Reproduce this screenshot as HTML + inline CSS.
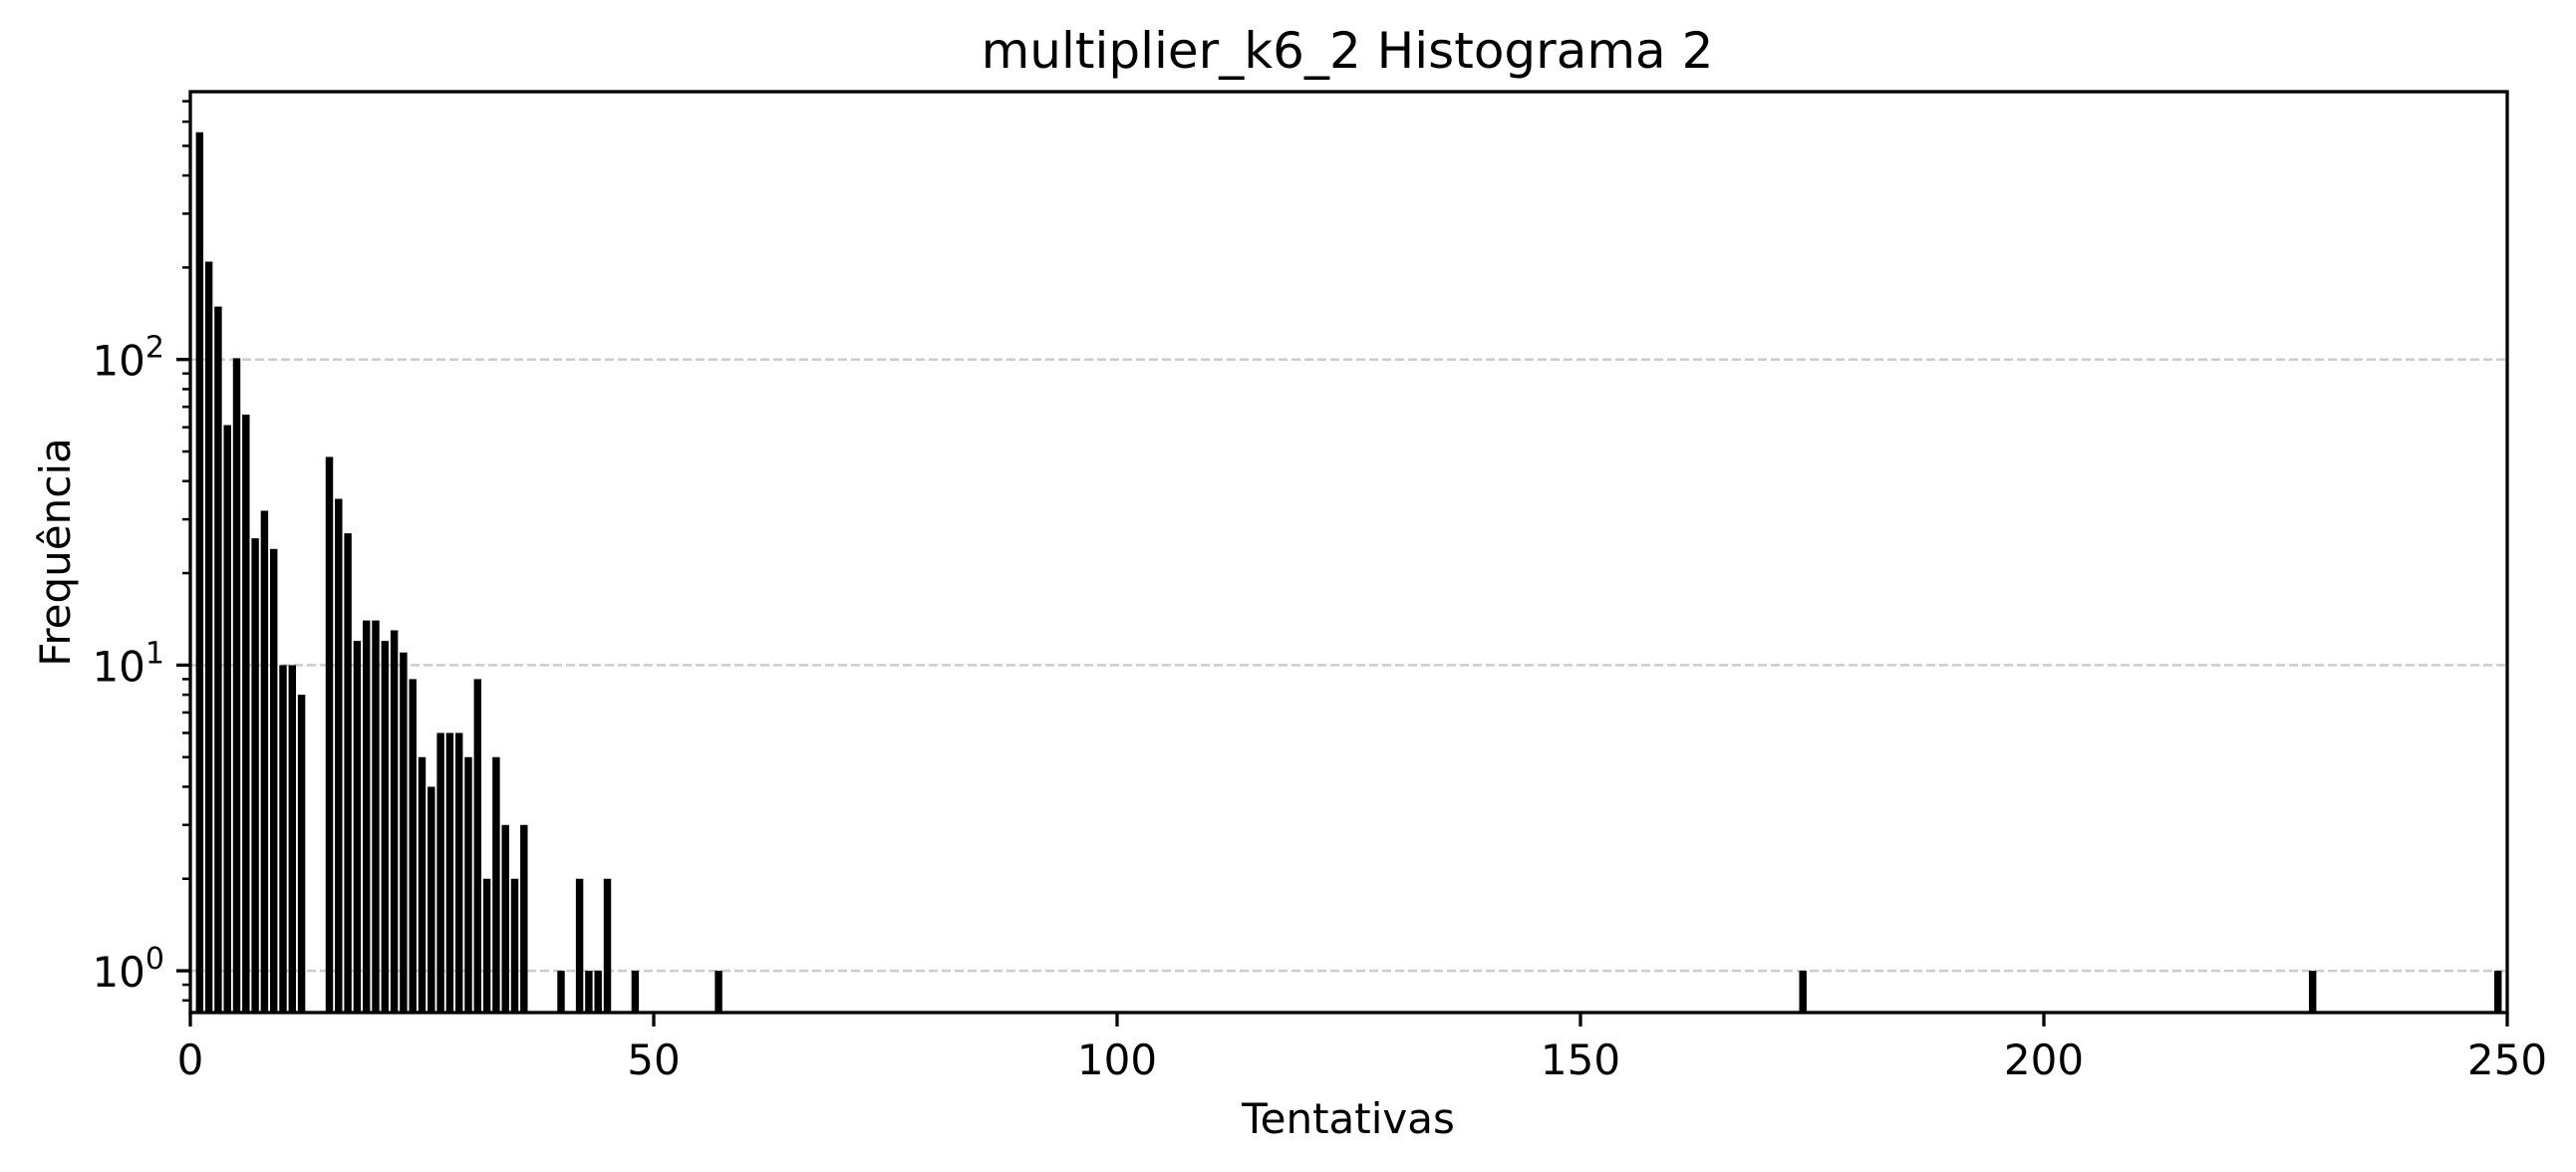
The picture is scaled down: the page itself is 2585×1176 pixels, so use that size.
<!DOCTYPE html>
<html><head><meta charset="utf-8"><style>
html,body{margin:0;padding:0;background:#fff;}
svg{display:block;font-family:"DejaVu Sans","Liberation Sans",sans-serif;}
</style></head><body>
<svg id="chart" width="2585" height="1176" viewBox="0 0 2585 1176" xmlns="http://www.w3.org/2000/svg">
<rect width="2585" height="1176" fill="#fff"/>
<g id="grid"></g><g id="bars"></g><g id="axes"></g>
</svg>
<script>
const categories = [1,2,3,4,5,6,7,8,9,10,11,12,15,16,17,18,19,20,21,22,23,24,25,26,27,28,29,30,31,32,33,34,35,36,40,42,43,44,45,48,57,174,229,249];
const counts = [554,209,149,61,101,66,26,32,24,10,10,8,48,35,27,12,14,14,12,13,11,9,5,4,6,6,6,5,9,2,5,3,2,3,1,2,1,1,2,1,1,1,1,1];
const xTicks = [0,50,100,150,200,250];
const yTickExps = [0,1,2];
const NS='http://www.w3.org/2000/svg';
const L=191,R=2516,T=92,B=1016;
const xMin=0,xMax=250;
const yMinLog=Math.log10(0.73), yMaxLog=Math.log10(752);
const x = v => L + (v-xMin)/(xMax-xMin)*(R-L);
const y = v => B - (Math.log10(v)-yMinLog)/(yMaxLog-yMinLog)*(B-T);
function mk(tag, attrs, parent){const e=document.createElementNS(NS,tag);for(const k in attrs)e.setAttribute(k,attrs[k]);parent.appendChild(e);return e;}
const grid=document.getElementById('grid'),bars=document.getElementById('bars'),axes=document.getElementById('axes');
yTickExps.forEach(p=>{
  const yy=y(Math.pow(10,p));
  const g=mk('line',{x1:L,x2:R,y1:yy,y2:yy,stroke:'#cccccc','stroke-width':2.5,'stroke-dasharray':'9,4'},grid);
  
  
});
categories.forEach((c,i)=>{
  const w=0.8*(R-L)/(xMax-xMin);
  const top=y(counts[i]);
  const r=mk('rect',{x:x(c)-w/2,y:top,width:w,height:B-top,fill:'#000'},bars);
  
  
});
const frame=mk('rect',{x:L,y:T,width:R-L,height:B-T,fill:'none',stroke:'#000','stroke-width':3.3},axes);


xTicks.forEach(t=>{
  const xx=x(t);
  mk('line',{x1:xx,x2:xx,y1:B,y2:B+14,stroke:'#000','stroke-width':3.3},axes);
  const tx=mk('text',{x:xx,y:1078,'font-size':42,'text-anchor':'middle',fill:'#000'},axes);
  tx.textContent=t;
  
  
});
yTickExps.forEach(p=>{
  const yy=y(Math.pow(10,p));
  mk('line',{x1:L-14,x2:L,y1:yy,y2:yy,stroke:'#000','stroke-width':3.3},axes);
  const tx=mk('text',{x:165,y:yy+16,'font-size':42,'text-anchor':'end',fill:'#000'},axes);
  tx.innerHTML='10<tspan dy="-18" font-size="30">'+p+'</tspan>';
  
  
});
for(let p=-1;p<=2;p++){for(let m=2;m<=9;m++){const v=m*Math.pow(10,p);const yy=y(v);if(yy<T||yy>B)continue;
  mk('line',{x1:L-8,x2:L,y1:yy,y2:yy,stroke:'#000','stroke-width':2.5},axes);}}
</script>
<svg style="position:absolute;left:0;top:0" width="2585" height="1176">
<text x="1352" y="68" font-size="50" text-anchor="middle" font-family="DejaVu Sans, Liberation Sans, sans-serif">multiplier_k6_2 Histograma 2</text>
<text x="1353" y="1137" font-size="42" text-anchor="middle" font-family="DejaVu Sans, Liberation Sans, sans-serif">Tentativas</text>
<text transform="translate(70,554) rotate(-90)" font-size="42" text-anchor="middle" font-family="DejaVu Sans, Liberation Sans, sans-serif">Frequência</text>
</svg>
</body></html>
